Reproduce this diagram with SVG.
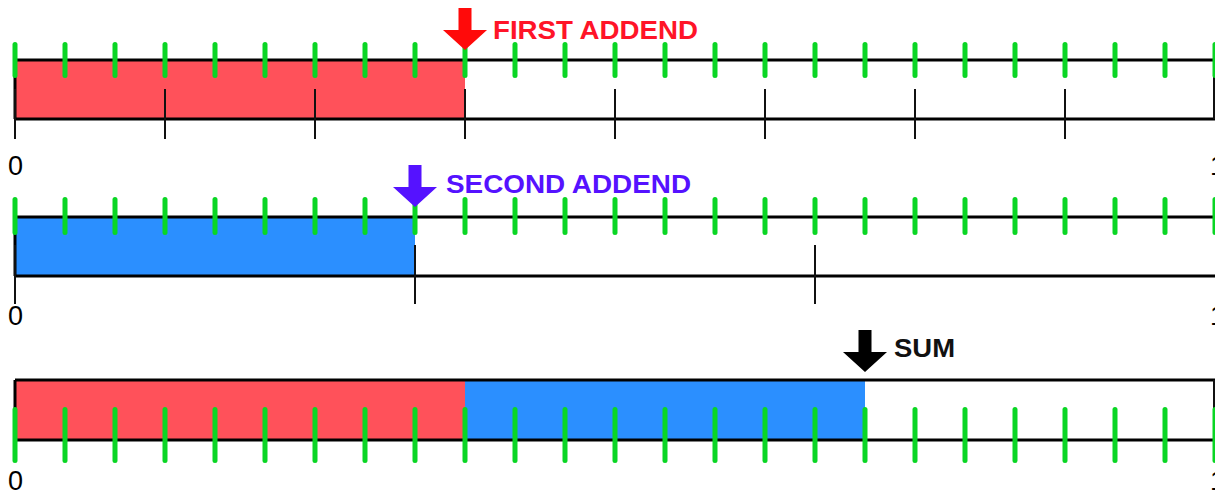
<svg xmlns="http://www.w3.org/2000/svg" width="1215" height="492" viewBox="0 0 1215 492">
  <style>
    .bar { fill: none; stroke: #000; stroke-width: 3; }
    .line { stroke: #000; stroke-width: 3; }
    .mark { stroke: #111; stroke-width: 2; }
    .unit { stroke: #0ad624; stroke-width: 5; stroke-linecap: round; }
    .num { font-family: "Liberation Sans", Arial, sans-serif; font-size: 27px; fill: #000; }
    .lbl { font-family: "Liberation Sans", Arial, sans-serif; font-size: 25px; font-weight: bold; }
    .red { fill: #ff515a; }
    .blue { fill: #2b8fff; }
  </style>
  <defs>
    <!-- downward arrow, tip at origin -->
    <path id="arrow" d="M-6.5,-42 H6.5 V-20 H22 L0,0 L-22,-20 H-6.5 Z"/>
  </defs>

  <rect width="1215" height="492" fill="#fff"/>

  <!-- first number line: eighths with the first addend shaded -->
  <g id="line-first">
    <rect class="red" x="15" y="60" width="450" height="59"/>
    <line class="line" x1="15" y1="60" x2="1215" y2="60"/>
    <line class="line" x1="15" y1="119" x2="1215" y2="119"/>
    <line class="line" x1="15" y1="60" x2="15" y2="119"/>
    <line class="mark" x1="1214" y1="60" x2="1214" y2="119"/>
    <g class="mark">
      <line x1="15" y1="89" x2="15" y2="139"/>
      <line x1="165" y1="89" x2="165" y2="139"/>
      <line x1="315" y1="89" x2="315" y2="139"/>
      <line x1="465" y1="89" x2="465" y2="139"/>
      <line x1="615" y1="89" x2="615" y2="139"/>
      <line x1="765" y1="89" x2="765" y2="139"/>
      <line x1="915" y1="89" x2="915" y2="139"/>
      <line x1="1065" y1="89" x2="1065" y2="139"/>
    </g>
    <g class="unit">
      <line x1="15" y1="44.5" x2="15" y2="75.5"/><line x1="65" y1="44.5" x2="65" y2="75.5"/>
      <line x1="115" y1="44.5" x2="115" y2="75.5"/><line x1="165" y1="44.5" x2="165" y2="75.5"/>
      <line x1="215" y1="44.5" x2="215" y2="75.5"/><line x1="265" y1="44.5" x2="265" y2="75.5"/>
      <line x1="315" y1="44.5" x2="315" y2="75.5"/><line x1="365" y1="44.5" x2="365" y2="75.5"/>
      <line x1="415" y1="44.5" x2="415" y2="75.5"/><line x1="465" y1="44.5" x2="465" y2="75.5"/>
      <line x1="515" y1="44.5" x2="515" y2="75.5"/><line x1="565" y1="44.5" x2="565" y2="75.5"/>
      <line x1="615" y1="44.5" x2="615" y2="75.5"/><line x1="665" y1="44.5" x2="665" y2="75.5"/>
      <line x1="715" y1="44.5" x2="715" y2="75.5"/><line x1="765" y1="44.5" x2="765" y2="75.5"/>
      <line x1="815" y1="44.5" x2="815" y2="75.5"/><line x1="865" y1="44.5" x2="865" y2="75.5"/>
      <line x1="915" y1="44.5" x2="915" y2="75.5"/><line x1="965" y1="44.5" x2="965" y2="75.5"/>
      <line x1="1015" y1="44.5" x2="1015" y2="75.5"/><line x1="1065" y1="44.5" x2="1065" y2="75.5"/>
      <line x1="1115" y1="44.5" x2="1115" y2="75.5"/><line x1="1165" y1="44.5" x2="1165" y2="75.5"/>
      <line x1="1215" y1="44.5" x2="1215" y2="75.5"/>
    </g>
    <text class="num" x="8" y="175">0</text>
    <text class="num" x="1210" y="175">1</text>
  </g>

  <g id="label-first">
    <use href="#arrow" x="465" y="50" fill="#ff0a0a"/>
    <text class="lbl" x="493" y="39" fill="#ff1428" textLength="205" lengthAdjust="spacingAndGlyphs">FIRST ADDEND</text>
  </g>

  <!-- second number line: thirds with the second addend shaded -->
  <g id="line-second">
    <rect class="blue" x="15" y="217" width="400" height="59"/>
    <line class="line" x1="15" y1="217" x2="1215" y2="217"/>
    <line class="line" x1="15" y1="276" x2="1215" y2="276"/>
    <line class="line" x1="15" y1="217" x2="15" y2="276"/>
    <g class="mark">
      <line x1="15" y1="245" x2="15" y2="304"/>
      <line x1="415" y1="245" x2="415" y2="304"/>
      <line x1="815" y1="245" x2="815" y2="304"/>
    </g>
    <g class="unit">
      <line x1="15" y1="199.5" x2="15" y2="232.5"/><line x1="65" y1="199.5" x2="65" y2="232.5"/>
      <line x1="115" y1="199.5" x2="115" y2="232.5"/><line x1="165" y1="199.5" x2="165" y2="232.5"/>
      <line x1="215" y1="199.5" x2="215" y2="232.5"/><line x1="265" y1="199.5" x2="265" y2="232.5"/>
      <line x1="315" y1="199.5" x2="315" y2="232.5"/><line x1="365" y1="199.5" x2="365" y2="232.5"/>
      <line x1="415" y1="199.5" x2="415" y2="232.5"/><line x1="465" y1="199.5" x2="465" y2="232.5"/>
      <line x1="515" y1="199.5" x2="515" y2="232.5"/><line x1="565" y1="199.5" x2="565" y2="232.5"/>
      <line x1="615" y1="199.5" x2="615" y2="232.5"/><line x1="665" y1="199.5" x2="665" y2="232.5"/>
      <line x1="715" y1="199.5" x2="715" y2="232.5"/><line x1="765" y1="199.5" x2="765" y2="232.5"/>
      <line x1="815" y1="199.5" x2="815" y2="232.5"/><line x1="865" y1="199.5" x2="865" y2="232.5"/>
      <line x1="915" y1="199.5" x2="915" y2="232.5"/><line x1="965" y1="199.5" x2="965" y2="232.5"/>
      <line x1="1015" y1="199.5" x2="1015" y2="232.5"/><line x1="1065" y1="199.5" x2="1065" y2="232.5"/>
      <line x1="1115" y1="199.5" x2="1115" y2="232.5"/><line x1="1165" y1="199.5" x2="1165" y2="232.5"/>
      <line x1="1215" y1="199.5" x2="1215" y2="232.5"/>
    </g>
    <text class="num" x="8" y="325">0</text>
    <text class="num" x="1210" y="325">1</text>
  </g>

  <g id="label-second">
    <use href="#arrow" x="415" y="207" fill="#5512ff"/>
    <text class="lbl" x="446" y="193" fill="#5512ff" textLength="245" lengthAdjust="spacingAndGlyphs">SECOND ADDEND</text>
  </g>

  <!-- sum line: both addends laid end to end -->
  <g id="line-sum">
    <rect class="red" x="15" y="380" width="450" height="60"/>
    <rect class="blue" x="465" y="380" width="400" height="60"/>
    <line class="line" x1="15" y1="380" x2="1215" y2="380"/>
    <line class="line" x1="15" y1="440" x2="1215" y2="440"/>
    <line class="line" x1="15" y1="380" x2="15" y2="440"/>
    <line class="mark" x1="1214" y1="380" x2="1214" y2="440"/>
    <g class="unit">
      <line x1="15" y1="409.5" x2="15" y2="460.5"/><line x1="65" y1="409.5" x2="65" y2="460.5"/>
      <line x1="115" y1="409.5" x2="115" y2="460.5"/><line x1="165" y1="409.5" x2="165" y2="460.5"/>
      <line x1="215" y1="409.5" x2="215" y2="460.5"/><line x1="265" y1="409.5" x2="265" y2="460.5"/>
      <line x1="315" y1="409.5" x2="315" y2="460.5"/><line x1="365" y1="409.5" x2="365" y2="460.5"/>
      <line x1="415" y1="409.5" x2="415" y2="460.5"/><line x1="465" y1="409.5" x2="465" y2="460.5"/>
      <line x1="515" y1="409.5" x2="515" y2="460.5"/><line x1="565" y1="409.5" x2="565" y2="460.5"/>
      <line x1="615" y1="409.5" x2="615" y2="460.5"/><line x1="665" y1="409.5" x2="665" y2="460.5"/>
      <line x1="715" y1="409.5" x2="715" y2="460.5"/><line x1="765" y1="409.5" x2="765" y2="460.5"/>
      <line x1="815" y1="409.5" x2="815" y2="460.5"/><line x1="865" y1="409.5" x2="865" y2="460.5"/>
      <line x1="915" y1="409.5" x2="915" y2="460.5"/><line x1="965" y1="409.5" x2="965" y2="460.5"/>
      <line x1="1015" y1="409.5" x2="1015" y2="460.5"/><line x1="1065" y1="409.5" x2="1065" y2="460.5"/>
      <line x1="1115" y1="409.5" x2="1115" y2="460.5"/><line x1="1165" y1="409.5" x2="1165" y2="460.5"/>
      <line x1="1215" y1="409.5" x2="1215" y2="460.5"/>
    </g>
    <text class="num" x="8" y="490">0</text>
    <text class="num" x="1210" y="490">1</text>
  </g>

  <g id="label-sum">
    <use href="#arrow" x="865" y="372" fill="#000"/>
    <text class="lbl" x="894" y="357" fill="#111" textLength="61" lengthAdjust="spacingAndGlyphs">SUM</text>
  </g>
</svg>
